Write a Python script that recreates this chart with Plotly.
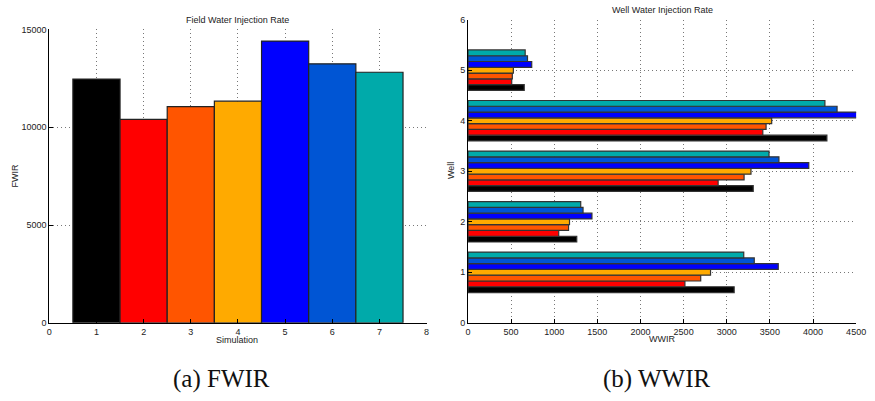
import plotly.graph_objects as go

W, H = 875, 401

simulations = [1, 2, 3, 4, 5, 6, 7]
fwir = [12460, 10400, 11050, 11330, 14400, 13240, 12810]
sim_colors = ["#000000", "#FF0000", "#FF5500", "#FFAA00", "#0000FF", "#0055D4", "#00AAAA"]

wells = [1, 2, 3, 4, 5]
wwir_by_sim = [
    [3086, 1261, 3307, 4161, 652],
    [2515, 1052, 2900, 3418, 507],
    [2698, 1166, 3201, 3456, 514],
    [2812, 1177, 3281, 3521, 526],
    [3597, 1437, 3951, 4680, 739],
    [3319, 1334, 3605, 4279, 690],
    [3197, 1307, 3490, 4138, 663],
]

fwir_ticks = [0, 5000, 10000, 15000]
sim_ticks = [0, 1, 2, 3, 4, 5, 6, 7, 8]
wwir_ticks = [0, 500, 1000, 1500, 2000, 2500, 3000, 3500, 4000, 4500]
well_ticks = [0, 1, 2, 3, 4, 5, 6]


def px_x(p):
    return p / W


def px_y(p):
    return 1 - p / H


fig = go.Figure()

fig.add_trace(go.Bar(
    x=simulations, y=fwir, width=1,
    marker=dict(color=sim_colors, line=dict(color="#222222", width=1.2)),
    xaxis="x", yaxis="y", showlegend=False,
))

for vals, col in zip(wwir_by_sim, sim_colors):
    fig.add_trace(go.Bar(
        y=wells, x=vals, orientation="h",
        marker=dict(color=col, line=dict(color="#333333", width=1.2)),
        xaxis="x2", yaxis="y2", showlegend=False,
    ))

font = dict(family="Liberation Sans, Arial, sans-serif", size=9, color="#222222")
axcommon = dict(
    showline=True, linecolor="#000000", linewidth=1,
    ticks="inside", ticklen=4, tickcolor="#000000",
    showgrid=True, gridcolor="#777777", griddash="1px,3px", gridwidth=1,
    zeroline=False, tickfont=font, tickformat="d",
)

fig.update_layout(
    width=W, height=H,
    margin=dict(l=0, r=0, t=0, b=0),
    paper_bgcolor="white", plot_bgcolor="white",
    barmode="group", bargap=0.2, bargroupgap=0,
    font=font,
    xaxis=dict(domain=[px_x(47), px_x(430)], range=[0, 8], tickvals=sim_ticks,
               anchor="y", **axcommon),
    yaxis=dict(domain=[px_y(326), px_y(25)], range=[0, 15000], tickvals=fwir_ticks,
               anchor="x", **axcommon),
    xaxis2=dict(domain=[px_x(472), px_x(866)], range=[0, 4500], tickvals=wwir_ticks,
                anchor="y2", **axcommon),
    yaxis2=dict(domain=[px_y(326), px_y(15)], range=[0, 6], tickvals=well_ticks,
                anchor="x2", **axcommon),
)

ann = [
    dict(text="Field Water Injection Rate", x=px_x(238), y=px_y(15)),
    dict(text="Well Water Injection Rate", x=px_x(669), y=px_y(5)),
    dict(text="Simulation", x=px_x(238), y=px_y(344)),
    dict(text="WWIR", x=px_x(669), y=px_y(343)),
    dict(text="FWIR", x=px_x(12), y=px_y(175), textangle=-90),
    dict(text="Well", x=px_x(455), y=px_y(170), textangle=-90),
]
for a in ann:
    fig.add_annotation(xref="paper", yref="paper", showarrow=False,
                       xanchor="center", yanchor="middle", font=font, **a)

cap_font = dict(family="Liberation Serif, DejaVu Serif, serif", size=25, color="#111111")
fig.add_annotation(text="(a) FWIR", x=px_x(222), y=px_y(384), xref="paper", yref="paper",
                   showarrow=False, xanchor="center", yanchor="middle", font=cap_font)
fig.add_annotation(text="(b) WWIR", x=px_x(663), y=px_y(384), xref="paper", yref="paper",
                   showarrow=False, xanchor="center", yanchor="middle", font=cap_font)

fig.write_html("out.html", config={"displayModeBar": False},
               post_script="document.body.style.margin='0px';")
